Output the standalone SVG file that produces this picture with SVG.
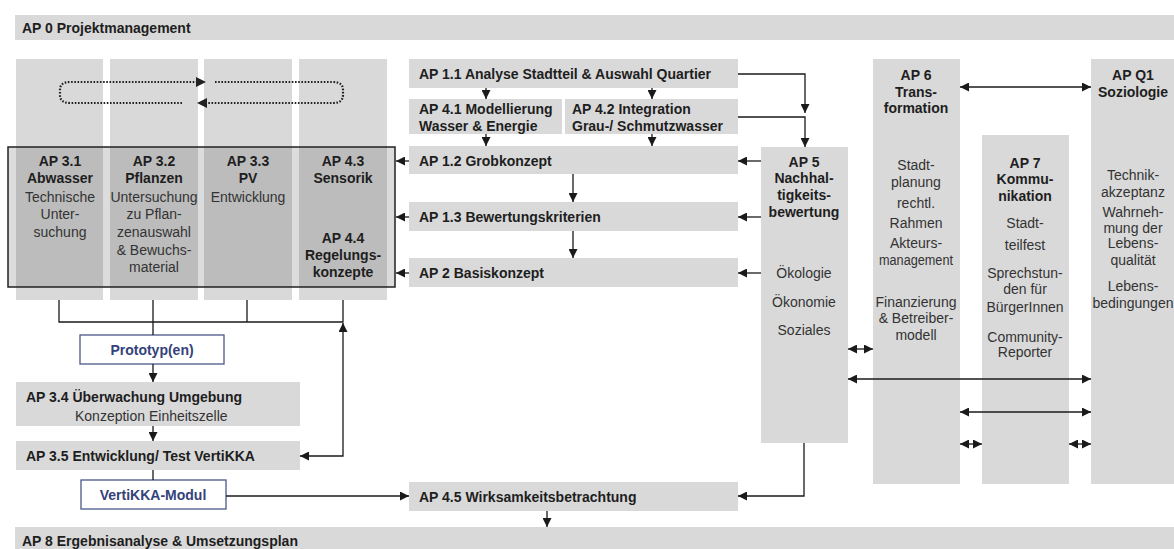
<svg xmlns="http://www.w3.org/2000/svg" width="1174" height="549" viewBox="0 0 1174 549">
<style>
text{font-family:"Liberation Sans",Arial,sans-serif;font-size:14px;fill:#333}
.b{font-weight:bold;fill:#1e1e1e}
.c{text-anchor:middle}
.blue{fill:#34427a;font-weight:bold}
.box{fill:#d9d9d9}
.dk{fill:#bcbcbc}
.ln{fill:none;stroke:#1a1a1a;stroke-width:1.3}
.dot{fill:none;stroke:#222;stroke-width:2.2;stroke-dasharray:1.6 1.6}
.bl{fill:#fff;stroke:#4a5888;stroke-width:1.3}
</style>
<defs>
<marker id="ah" viewBox="0 0 10 10" refX="10" refY="5" markerWidth="9" markerHeight="9" markerUnits="userSpaceOnUse" orient="auto-start-reverse">
<path d="M0,0 L10,5 L0,10 z" fill="#1a1a1a"/>
</marker>
</defs>
<rect width="1174" height="549" fill="#fff"/>

<g id="ap0"><rect class="box" x="15" y="15" width="1159" height="25"/><text class="b" x="22" y="33">AP 0 Projektmanagement</text></g>
<g id="ap8"><rect class="box" x="15" y="527" width="1159" height="22"/><text class="b" x="22" y="546">AP 8 Ergebnisanalyse &amp; Umsetzungsplan</text></g>

<rect x="8" y="147" width="387" height="140" fill="#dcdcdc"/>

<g id="ap31"><rect class="box" x="16" y="59" width="87" height="241"/><rect class="dk" x="16" y="147" width="87" height="140"/>
<text class="b c" x="60" y="166">AP 3.1</text><text class="b c" x="60" y="183">Abwasser</text>
<text class="c" x="60" y="202">Technische</text><text class="c" x="60" y="219">Unter-</text><text class="c" x="60" y="237">suchung</text></g>
<g id="ap32"><rect class="box" x="110" y="59" width="88" height="241"/><rect class="dk" x="110" y="147" width="88" height="140"/>
<text class="b c" x="154" y="166">AP 3.2</text><text class="b c" x="154" y="183">Pflanzen</text>
<text class="c" x="154" y="202">Untersuchung</text><text class="c" x="154" y="219">zu Pflan-</text><text class="c" x="154" y="237">zenauswahl</text><text class="c" x="154" y="255">&amp; Bewuchs-</text><text class="c" x="154" y="272">material</text></g>
<g id="ap33"><rect class="box" x="204" y="59" width="88" height="241"/><rect class="dk" x="204" y="147" width="88" height="140"/>
<text class="b c" x="248" y="166">AP 3.3</text><text class="b c" x="248" y="183">PV</text><text class="c" x="248" y="202">Entwicklung</text></g>
<g id="ap43"><rect class="box" x="299" y="59" width="88" height="241"/><rect class="dk" x="299" y="147" width="88" height="140"/>
<text class="b c" x="343" y="166">AP 4.3</text><text class="b c" x="343" y="183">Sensorik</text>
<text class="b c" x="343" y="243">AP 4.4</text><text class="b c" x="343" y="260">Regelungs-</text><text class="b c" x="343" y="277">konzepte</text></g>
<g id="frame"><rect x="8" y="147" width="387" height="140" fill="none" stroke="#222" stroke-width="1.5"/></g>

<g id="ap11"><rect class="box" x="409" y="59" width="329" height="29"/><text class="b" x="419" y="79">AP 1.1 Analyse Stadtteil &amp; Auswahl Quartier</text></g>
<g id="ap41"><rect class="box" x="409" y="99" width="153" height="35"/><text class="b" x="419" y="114">AP 4.1 Modellierung</text><text class="b" x="419" y="131">Wasser &amp; Energie</text></g>
<g id="ap42"><rect class="box" x="565" y="99" width="173" height="35"/><text class="b" x="572" y="114">AP 4.2 Integration</text><text class="b" x="572" y="131">Grau-/ Schmutzwasser</text></g>
<g id="ap12"><rect class="box" x="409" y="146" width="329" height="28"/><text class="b" x="419" y="166">AP 1.2 Grobkonzept</text></g>
<g id="ap13"><rect class="box" x="409" y="202" width="329" height="29"/><text class="b" x="419" y="222">AP 1.3 Bewertungskriterien</text></g>
<g id="ap2"><rect class="box" x="409" y="258" width="329" height="29"/><text class="b" x="419" y="278">AP 2 Basiskonzept</text></g>
<g id="ap45"><rect class="box" x="409" y="482" width="329" height="29"/><text class="b" x="419" y="502">AP 4.5 Wirksamkeitsbetrachtung</text></g>

<g id="ap5"><rect class="box" x="761" y="147" width="87" height="296"/>
<text class="b c" x="804" y="167">AP 5</text><text class="b c" x="804" y="183">Nachhal-</text><text class="b c" x="804" y="200">tigkeits-</text><text class="b c" x="804" y="217">bewertung</text>
<text class="c" x="804" y="278">Ökologie</text><text class="c" x="804" y="307">Ökonomie</text><text class="c" x="804" y="335">Soziales</text></g>

<g id="ap6"><rect class="box" x="873" y="59" width="87" height="425"/>
<text class="b c" x="916" y="80">AP 6</text><text class="b c" x="916" y="97">Trans-</text><text class="b c" x="916" y="113">formation</text>
<text class="c" x="916" y="170">Stadt-</text><text class="c" x="916" y="187">planung</text>
<text class="c" x="916" y="208">rechtl.</text><text class="c" x="916" y="228">Rahmen</text>
<text class="c" x="916" y="248">Akteurs-</text><text class="c" x="916" y="265" textLength="74" lengthAdjust="spacingAndGlyphs">management</text>
<text class="c" x="916" y="307">Finanzierung</text><text class="c" x="916" y="323">&amp; Betreiber-</text><text class="c" x="916" y="340">modell</text></g>

<g id="ap7"><rect class="box" x="982" y="135" width="87" height="349"/>
<text class="b c" x="1025" y="168">AP 7</text><text class="b c" x="1025" y="184">Kommu-</text><text class="b c" x="1025" y="201">nikation</text>
<text class="c" x="1025" y="228">Stadt-</text><text class="c" x="1025" y="250">teilfest</text>
<text class="c" x="1025" y="278">Sprechstun-</text><text class="c" x="1025" y="294">den für</text><text class="c" x="1025" y="312">BürgerInnen</text>
<text class="c" x="1025" y="342">Community-</text><text class="c" x="1025" y="357">Reporter</text></g>

<g id="apq1"><rect class="box" x="1091" y="59" width="83" height="425"/>
<text class="b c" x="1133" y="80">AP Q1</text><text class="b c" x="1133" y="97">Soziologie</text>
<text class="c" x="1133" y="180">Technik-</text><text class="c" x="1133" y="197">akzeptanz</text>
<text class="c" x="1133" y="217">Wahrneh-</text><text class="c" x="1133" y="233">mung der</text><text class="c" x="1133" y="248">Lebens-</text><text class="c" x="1133" y="265">qualität</text>
<text class="c" x="1133" y="291">Lebens-</text><text class="c" x="1133" y="308">bedingungen</text></g>

<g id="ap34"><rect class="box" x="16" y="382" width="284" height="44"/><text class="b" x="26" y="402">AP 3.4 Überwachung Umgebung</text><text x="75" y="421">Konzeption Einheitszelle</text></g>
<g id="ap35"><rect class="box" x="16" y="441" width="284" height="29"/><text class="b" x="26" y="461">AP 3.5 Entwicklung/ Test VertiKKA</text></g>
<g id="prototyp"><rect class="bl" x="80" y="335" width="144" height="29"/><text class="c blue" x="152" y="355">Prototyp(en)</text></g>
<g id="modul"><rect class="bl" x="81" y="480" width="145" height="29"/><text class="c blue" x="153" y="500">VertiKKA-Modul</text></g>

<g id="connectors">
<path class="dot" d="M182,103 H70 Q60,103 60,95 V90 Q60,82 70,82 H200"/>
<path d="M196,77 L206,82 L196,87 z" fill="#222"/>
<path class="dot" d="M215,82 H333 Q343,82 343,90 V95 Q343,103 333,103 H202"/>
<path d="M207,98 L197,103 L207,108 z" fill="#222"/>

<path class="ln" marker-end="url(#ah)" d="M486,88 V99"/>
<path class="ln" marker-end="url(#ah)" d="M652,88 V99"/>
<path class="ln" marker-end="url(#ah)" d="M486,134 V146"/>
<path class="ln" marker-end="url(#ah)" d="M652,134 V146"/>
<path class="ln" marker-end="url(#ah)" d="M573,174 V202"/>
<path class="ln" marker-end="url(#ah)" d="M573,231 V258"/>
<path class="ln" marker-end="url(#ah)" d="M409,161 H396"/>
<path class="ln" marker-end="url(#ah)" d="M409,217 H396"/>
<path class="ln" marker-end="url(#ah)" d="M409,273 H396"/>
<path class="ln" marker-end="url(#ah)" d="M761,161 H738"/>
<path class="ln" marker-end="url(#ah)" d="M761,217 H738"/>
<path class="ln" marker-end="url(#ah)" d="M761,273 H738"/>
<path class="ln" marker-end="url(#ah)" d="M738,74 H805 V113"/>
<path class="ln" marker-end="url(#ah)" d="M738,117 H805 V147"/>
<path class="ln" marker-end="url(#ah)" d="M804,443 V496 H738"/>
<path class="ln" marker-end="url(#ah)" d="M547,511 V527"/>
<path class="ln" marker-end="url(#ah)" d="M226,496 H409"/>

<path class="ln" d="M59,300 V322 H343 V300 M247,300 V322 M153,300 V335"/>
<path class="ln" marker-end="url(#ah)" d="M153,364 V382"/>
<path class="ln" marker-end="url(#ah)" d="M153,426 V441"/>
<path class="ln" d="M153,470 V480"/>
<path class="ln" marker-start="url(#ah)" marker-end="url(#ah)" d="M343,323 V456 H300"/>

<path class="ln" marker-start="url(#ah)" marker-end="url(#ah)" d="M960,87 H1091"/>
<path class="ln" marker-start="url(#ah)" marker-end="url(#ah)" d="M848,349 H873"/>
<path class="ln" marker-start="url(#ah)" marker-end="url(#ah)" d="M848,379 H1091"/>
<path class="ln" marker-start="url(#ah)" marker-end="url(#ah)" d="M960,412 H1091"/>
<path class="ln" marker-start="url(#ah)" marker-end="url(#ah)" d="M960,444 H982"/>
<path class="ln" marker-start="url(#ah)" marker-end="url(#ah)" d="M1069,444 H1091"/>
</g>
</svg>
